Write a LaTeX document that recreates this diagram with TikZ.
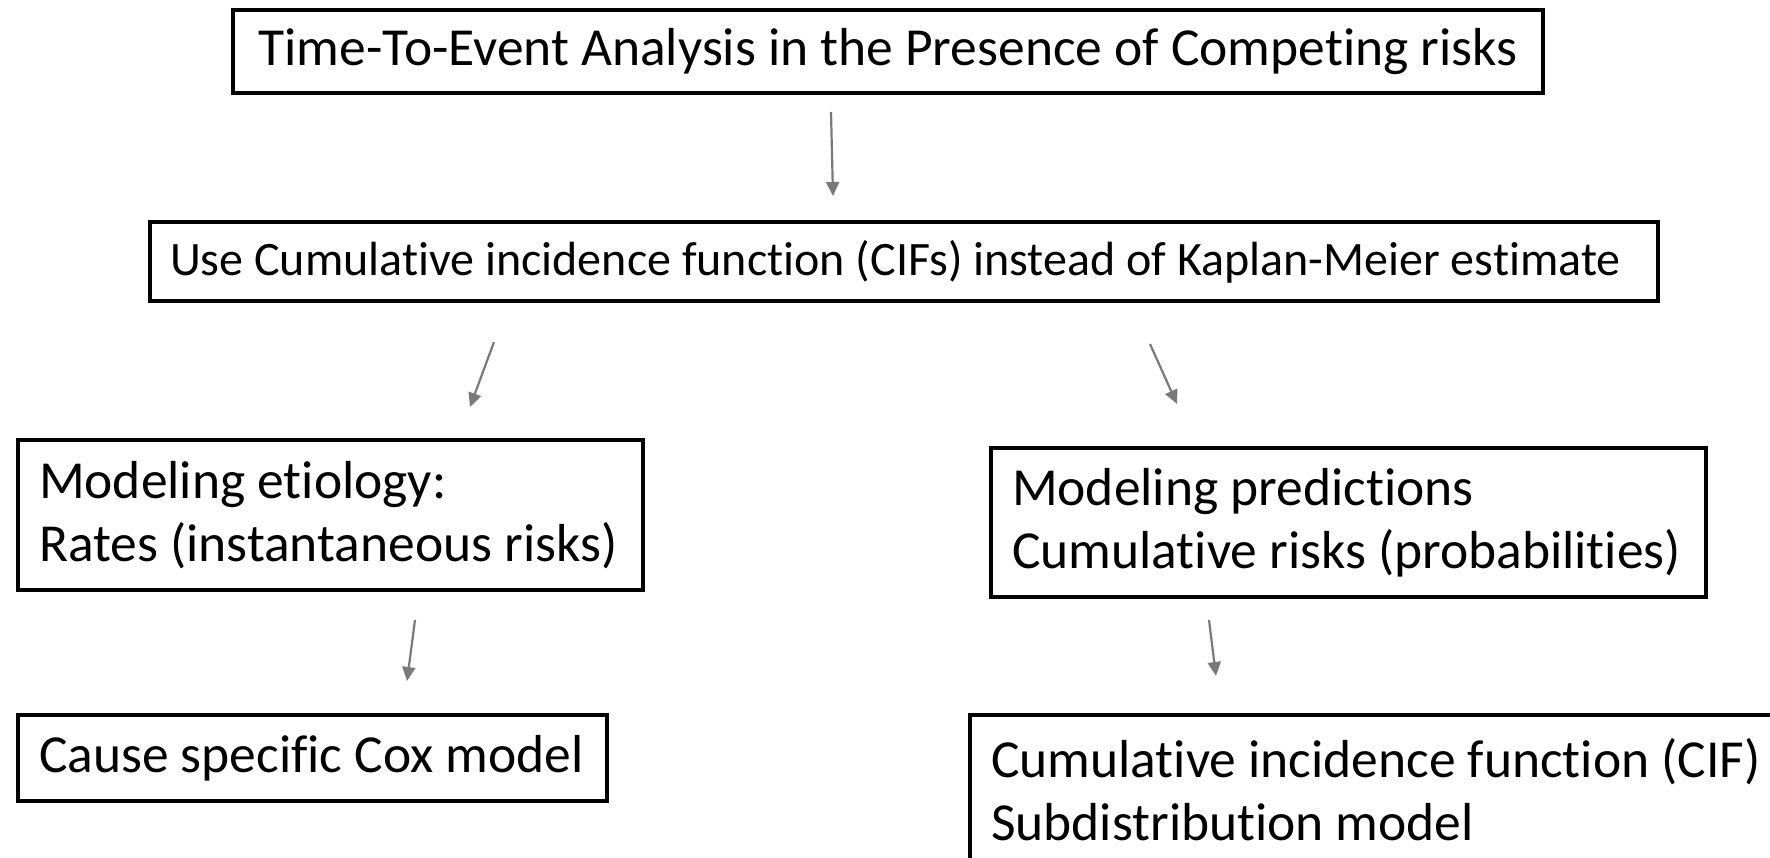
\documentclass[tikz,border=0pt]{standalone}
\usepackage{fontspec}
\setmainfont[Ligatures={NoCommon}]{Carlito}
\usetikzlibrary{arrows.meta}
\newcommand\bxline[2]{\makebox[#1][l]{#2}}
\begin{document}
\begin{tikzpicture}[x=1pt,y=-1pt,
  box/.style={draw=black,line width=4pt,inner xsep=20pt,inner ysep=0pt,align=left,anchor=north west},
  big/.style={font=\fontsize{53.5}{63}\selectfont},
  conn/.style={draw=gray!95!black,line width=2.2pt,-{Triangle[length=14pt,width=13pt]}}]
\useasboundingbox (0,0) rectangle (1770,858);
\clip (0,0) rectangle (1770,858);
\node[box,align=center,minimum width=1310pt,minimum height=83pt,font=\fontsize{53.5}{60}\selectfont] (top) at (231,8) {Time-To-Event Analysis in the Presence of Competing risks};
\node[box,minimum height=79pt,font=\fontsize{48}{55}\selectfont] (cif) at (148,220) {\bxline{1468pt}{Use Cumulative incidence function (CIFs) instead of Kaplan-Meier estimate}};
\node[box,big,inner xsep=21pt,minimum height=150pt] (etio) at (16,438) {\bxline{583pt}{Modeling etiology:}\\\bxline{583pt}{Rates (instantaneous risks)}};
\node[box,big,inner xsep=21pt,minimum height=149pt] (pred) at (989,446) {\bxline{673pt}{Modeling predictions}\\\bxline{673pt}{Cumulative risks (probabilities)}};
\node[box,big,inner xsep=21pt,minimum height=86pt] (cox) at (16,713) {\bxline{547pt}{Cause specific Cox model}};
\node[box,big,inner xsep=21pt,minimum height=150pt] (sub) at (968,713) {\bxline{800pt}{Cumulative incidence function (CIF)}\\\bxline{800pt}{Subdistribution model}};
\coordinate (a1s) at (831,112); \coordinate (a1e) at (833,196);
\coordinate (a2s) at (494,342); \coordinate (a2e) at (470,407);
\coordinate (a3s) at (1150,344); \coordinate (a3e) at (1177,404);
\coordinate (a4s) at (415,620); \coordinate (a4e) at (407,681);
\coordinate (a5s) at (1209,620); \coordinate (a5e) at (1216,676);
\draw[conn] (a1s) -- (a1e);
\draw[conn] (a2s) -- (a2e);
\draw[conn] (a3s) -- (a3e);
\draw[conn] (a4s) -- (a4e);
\draw[conn] (a5s) -- (a5e);
\end{tikzpicture}
\end{document}
